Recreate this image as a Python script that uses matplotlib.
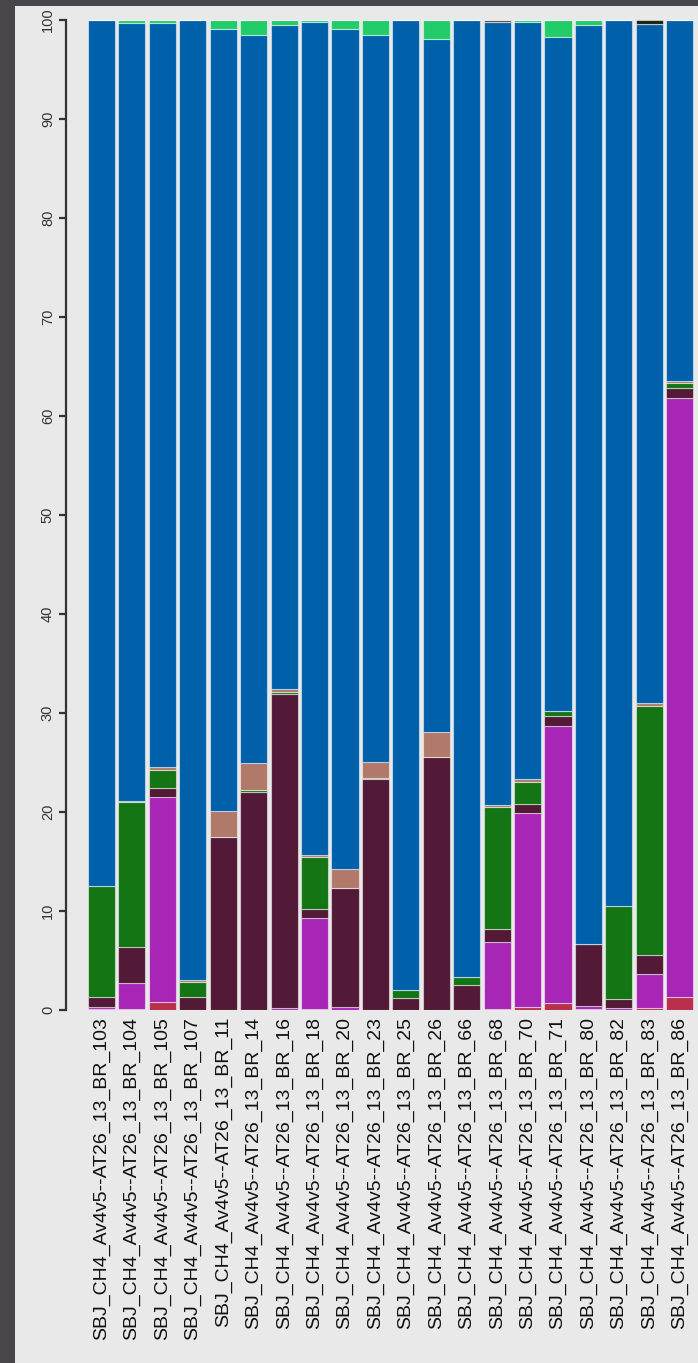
import numpy as np
import matplotlib
matplotlib.use("Agg")
import matplotlib.pyplot as plt

plt.rcParams['font.family'] = ['Liberation Sans', 'DejaVu Sans']

SAMPLES = ['103', '104', '105', '107', '11', '14', '16', '18', '20', '23',
           '25', '26', '66', '68', '70', '71', '80', '82', '83', '86']
LABELS = [f'SBJ_CH4_Av4v5--AT26_13_BR_{s}' for s in SAMPLES]

# relative abundance (%) per group, stacked bottom -> top
crimson = [0.1, 0.15, 0.85, 0, 0, 0, 0, 0.15, 0, 0,
           0, 0, 0, 0.15, 0.33, 0.67, 0.15, 0, 0.25, 1.3]
magenta = [0.25, 2.55, 20.65, 0, 0, 0, 0.2, 9.15, 0.3, 0,
           0, 0, 0, 6.7, 19.57, 28.03, 0.3, 0.2, 3.35, 60.5]
maroon = [1.0, 3.66, 0.9, 1.3, 17.44, 22.05, 31.7, 0.9, 12.0, 23.3,
          1.24, 25.5, 2.49, 1.36, 0.94, 1.0, 6.18, 0.9, 2.0, 1.05]
green = [11.2, 14.64, 1.8, 1.5, 0, 0.15, 0.17, 5.3, 0, 0.17,
         0.78, 0, 0.81, 12.3, 2.16, 0.5, 0, 9.4, 25.1, 0.45]
salmon = [0, 0.1, 0.3, 0.2, 2.66, 2.7, 0.33, 0.2, 1.9, 1.53,
          0, 2.6, 0, 0.2, 0.3, 0, 0, 0, 0.3, 0.2]
blue = [87.45, 78.6, 75.2, 97.0, 79.0, 73.6, 67.05, 84.05, 84.85, 73.5,
        97.98, 70.0, 96.7, 79.09, 76.45, 68.1, 92.82, 89.5, 68.6, 36.5]
lime = [0, 0.3, 0.3, 0, 0.9, 1.5, 0.55, 0.25, 0.95, 1.5,
        0, 1.9, 0, 0, 0.25, 1.7, 0.55, 0, 0, 0]
brown = [0, 0, 0, 0, 0, 0, 0, 0, 0, 0,
         0, 0, 0, 0.2, 0, 0, 0, 0, 0, 0]
black = [0, 0, 0, 0, 0, 0, 0, 0, 0, 0,
         0, 0, 0, 0, 0, 0, 0, 0, 0.4, 0]

SERIES = [
    (crimson, '#b92f4c'),
    (magenta, '#a826b6'),
    (maroon, '#521a37'),
    (green, '#137514'),
    (salmon, '#b0796a'),
    (blue, '#0061aa'),
    (lime, '#22cc6a'),
    (brown, '#55463a'),
    (black, '#1c2410'),
]

W, H = 698, 1363
fig = plt.figure(figsize=(W / 100, H / 100), dpi=100)
fig.patch.set_facecolor('#48454b')

# light panel behind the chart, leaving a dark strip on the left and top
bg = fig.add_axes([15 / W, 0, 1 - 15 / W, 1 - 6 / H], zorder=-1)
bg.set_facecolor('#e9e9e9')
bg.set_xticks([])
bg.set_yticks([])
for s in bg.spines.values():
    s.set_visible(False)

ax_left, ax_bottom = 66 / W, (H - 1010) / H
ax = fig.add_axes([ax_left, ax_bottom, 1 - ax_left, (1010 - 19.7) / H])
ax.set_facecolor('none')

x = np.arange(len(SAMPLES))
bottom = np.zeros(len(SAMPLES))
for vals, col in SERIES:
    vals = np.array(vals, dtype=float)
    ax.bar(x, vals, width=0.89, bottom=bottom, color=col,
           edgecolor=(1, 1, 1, 0.5), linewidth=0.8)
    bottom += vals

ax.set_xlim(-1.166, 19.6)
ax.set_ylim(0, 100)

for s in ['top', 'right', 'bottom']:
    ax.spines[s].set_visible(False)
ax.spines['left'].set_bounds(0, 100)
ax.spines['left'].set_color('#333333')
ax.spines['left'].set_linewidth(1.6)

ax.set_yticks(np.arange(0, 101, 10))
ax.set_yticklabels([str(v) for v in range(0, 101, 10)], rotation=90, va='center')
ax.tick_params(axis='y', length=5, width=1.6, color='#333333',
               labelsize=10.5, labelcolor='#333333', pad=3)

ax.set_xticks(x)
ax.set_xticklabels(LABELS, rotation=90, va='top', ha='center')
ax.tick_params(axis='x', length=0, labelsize=14, labelcolor='#111111', pad=5)

fig.savefig('out.png', dpi=100, facecolor=fig.get_facecolor())
